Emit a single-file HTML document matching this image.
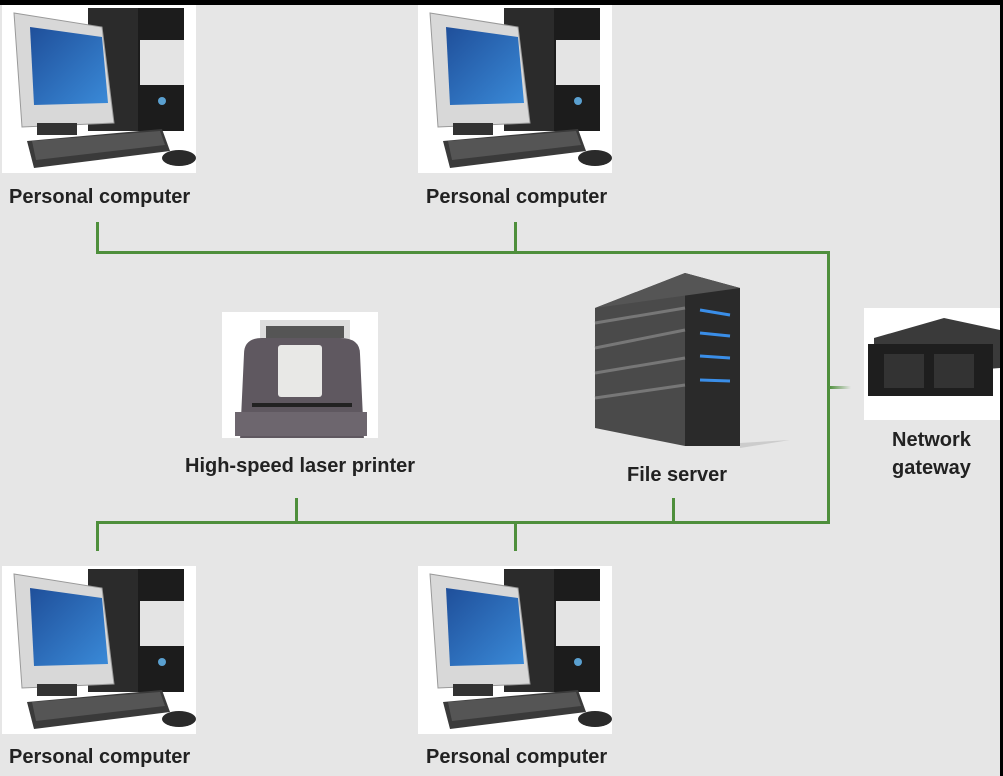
<!DOCTYPE html>
<html><head><style>
body{margin:0;background:#000;}
#c{position:relative;width:1003px;height:776px;background:#000;overflow:hidden;font-family:"Liberation Sans",sans-serif;}
#bg{position:absolute;left:0;top:5px;width:1000px;height:771px;background:#e6e6e6;}
.box{position:absolute;background:#fff;}
.lbl{position:absolute;font-weight:bold;font-size:20px;color:#222;white-space:nowrap;}
.g{position:absolute;background:#4e8f3c;}
</style></head><body><div id="c"><div id="bg"></div>

<svg width="0" height="0" style="position:absolute"><defs>
<linearGradient id="scr" x1="0" y1="0" x2="1" y2="1"><stop offset="0" stop-color="#1f4f9a"/><stop offset="1" stop-color="#3a8ad8"/></linearGradient>
<g id="pc">
<rect x="86" y="3" width="96" height="123" fill="#1c1c1c"/>
<rect x="86" y="3" width="50" height="123" fill="#2b2b2b"/>
<rect x="138" y="35" width="44" height="45" fill="#e4e4e4"/>
<circle cx="160" cy="96" r="4" fill="#5aa0d0"/>
<polygon points="12,8 100,22 112,118 20,122" fill="#d8d8d8" stroke="#999" stroke-width="1"/>
<polygon points="28,22 100,32 106,98 32,100" fill="url(#scr)"/>
<rect x="35" y="118" width="40" height="12" fill="#333"/>
<polygon points="25,136 160,124 168,146 32,163" fill="#3a3a3a"/>
<polygon points="30,136 158,126 163,140 34,155" fill="#555"/>
<ellipse cx="177" cy="153" rx="17" ry="8" fill="#2a2a2a"/>
</g>
</defs></svg>

<div class="box" style="left:2px;top:5px;width:194px;height:168px"><svg width="194" height="168"><use href="#pc"/></svg></div>
<div class="box" style="left:418px;top:5px;width:194px;height:168px"><svg width="194" height="168"><use href="#pc"/></svg></div>
<div class="box" style="left:2px;top:566px;width:194px;height:168px"><svg width="194" height="168"><use href="#pc"/></svg></div>
<div class="box" style="left:418px;top:566px;width:194px;height:168px"><svg width="194" height="168"><use href="#pc"/></svg></div>

<div class="lbl" style="left:9px;top:186px">Personal computer</div>
<div class="lbl" style="left:426px;top:186px">Personal computer</div>
<div class="lbl" style="left:9px;top:746px">Personal computer</div>
<div class="lbl" style="left:426px;top:746px">Personal computer</div>
<div class="lbl" style="left:185px;top:455px">High-speed laser printer</div>
<div class="lbl" style="left:627px;top:464px">File server</div>
<div class="lbl" style="left:892px;top:429px">Network</div>
<div class="lbl" style="left:892px;top:457px">gateway</div>

<!-- printer -->
<div class="box" style="left:222px;top:312px;width:156px;height:126px">
<svg width="156" height="126">
<rect x="38" y="8" width="90" height="25" fill="#ddd"/>
<rect x="44" y="14" width="78" height="12" fill="#555"/>
<path d="M22,42 Q22,26 40,26 L118,26 Q138,26 138,42 L142,128 L18,128 Z" fill="#5f5860"/>
<rect x="13" y="100" width="132" height="24" fill="#6d666e"/>
<rect x="56" y="33" width="44" height="52" fill="#e8e8e6" rx="3"/>
<rect x="30" y="91" width="100" height="4" fill="#222"/>
</svg></div>

<!-- server -->
<svg style="position:absolute;left:590px;top:268px" width="200" height="190">
<polygon points="5,40 95,5 95,178 5,160" fill="#4a4a4a"/>
<polygon points="95,5 150,20 150,178 95,178" fill="#2a2a2a"/>
<polygon points="5,40 95,5 150,20" fill="#555"/>
<g stroke="#777" stroke-width="3"><line x1="5" y1="55" x2="95" y2="40"/><line x1="5" y1="80" x2="95" y2="62"/><line x1="5" y1="105" x2="95" y2="90"/><line x1="5" y1="130" x2="95" y2="117"/></g>
<g stroke="#3a8ee8" stroke-width="3"><line x1="110" y1="42" x2="140" y2="47"/><line x1="110" y1="65" x2="140" y2="68"/><line x1="110" y1="88" x2="140" y2="90"/><line x1="110" y1="112" x2="140" y2="113"/></g>
<polygon points="150,175 200,172 150,180" fill="#ccc"/>
</svg>

<!-- gateway -->
<div class="box" style="left:864px;top:308px;width:136px;height:112px">
<svg width="136" height="112">
<polygon points="10,30 80,10 136,22 136,60 10,70" fill="#3a3a3a"/>
<rect x="4" y="36" width="125" height="52" fill="#1e1e1e"/>
<rect x="20" y="46" width="40" height="34" fill="#333"/>
<rect x="70" y="46" width="40" height="34" fill="#333"/>
</svg></div>

<!-- lines -->
<div class="g" style="left:96px;top:222px;width:3px;height:31px"></div>
<div class="g" style="left:514px;top:222px;width:3px;height:31px"></div>
<div class="g" style="left:96px;top:251px;width:734px;height:3px"></div>
<div class="g" style="left:827px;top:251px;width:3px;height:273px"></div>
<div class="g" style="left:96px;top:521px;width:734px;height:3px"></div>
<div class="g" style="left:96px;top:521px;width:3px;height:30px"></div>
<div class="g" style="left:514px;top:521px;width:3px;height:30px"></div>
<div class="g" style="left:295px;top:498px;width:3px;height:24px"></div>
<div class="g" style="left:672px;top:498px;width:3px;height:24px"></div>
<div style="position:absolute;left:829px;top:386px;width:22px;height:3px;background:linear-gradient(to right,#4e8f3c,#e6e6e6)"></div>
</div></body></html>
